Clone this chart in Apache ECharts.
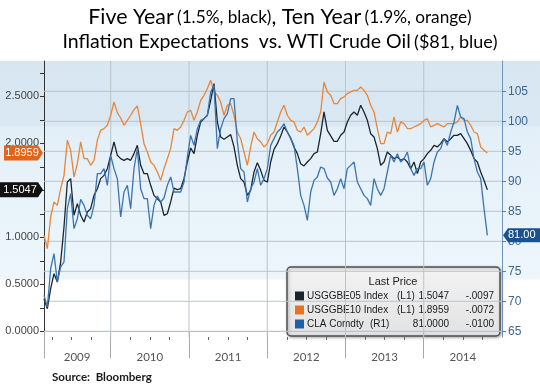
<!DOCTYPE html>
<html><head><meta charset="utf-8">
<script src="https://cdn.jsdelivr.net/npm/echarts@6/dist/echarts.min.js"></script>
<style>html,body{margin:0;padding:0;background:#fff}
#c{width:540px;height:384px;background:linear-gradient(to bottom,#ffffff 0px,#ffffff 61px,#d7e6f1 61px,#dae8f3 126px,#e3eff8 127px,#edf6fc 279px,#ffffff 280px,#ffffff 384px)}</style>
</head><body><div id="c"></div>
<script>
// sampling: first sample date (decimal year) and step between samples (~15.5 days)
const startYear = 2009.147;
const sampleStep = 0.04260;

// USGGBE05 Index (5-year breakeven, left axis)
const fiveYear = [
0.347,0.241,0.454,0.613,0.524,0.737,1.110,1.588,1.624,1.234,1.358,1.234,1.163,1.269,1.305,1.446,1.517,1.624,1.659,1.730,1.872,2.014,1.872,1.837,1.819,1.837,1.819,1.890,1.978,1.766,1.677,1.677,1.553,1.446,1.411,1.376,1.234,1.251,1.376,1.524,1.507,1.517,1.624,1.801,
1.950,1.890,2.085,2.227,2.262,2.298,2.457,2.634,2.227,2.067,2.042,2.067,2.092,1.961,1.766,1.624,1.588,1.446,1.500,1.695,1.794,1.712,1.606,1.588,1.801,1.936,1.996,2.078,2.173,2.120,2.056,1.961,1.890,1.783,1.759,1.801,1.837,1.890,1.907,2.102,2.333,2.138,2.078,2.021,2.021,
2.085,2.120,2.227,2.298,2.333,2.298,2.404,2.333,2.244,2.102,2.067,1.943,1.766,1.801,1.907,1.872,1.837,1.854,1.819,1.837,1.801,1.730,1.801,1.677,1.801,1.837,1.890,1.925,1.978,1.961,1.996,2.049,2.014,2.049,2.085,2.085,2.102,2.049,1.996,1.925,1.837,1.801,1.695,1.606,1.5047];

// USGGBE10 Index (10-year breakeven, left axis)
const tenYear = [
1.021,0.879,1.216,1.376,1.340,1.517,1.659,2.032,1.925,1.641,1.783,2.014,1.837,1.837,1.766,1.819,2.032,2.138,2.156,2.191,2.298,2.439,2.326,2.269,2.191,2.244,2.298,2.358,2.397,2.209,1.996,1.907,1.801,1.766,1.695,1.606,1.730,1.837,1.943,2.156,2.138,2.173,2.244,2.333,
2.351,2.244,2.333,2.457,2.510,2.581,2.670,2.546,2.510,2.439,2.298,2.404,2.422,2.298,2.120,2.049,1.907,1.766,1.961,2.120,2.049,2.014,1.961,1.996,2.085,2.120,2.227,2.333,2.404,2.298,2.244,2.227,2.138,2.120,2.173,2.085,2.120,2.156,2.227,2.333,2.652,2.546,2.510,2.422,2.422,
2.475,2.493,2.528,2.546,2.563,2.563,2.599,2.563,2.510,2.404,2.333,2.156,1.996,1.996,2.120,2.102,2.280,2.120,2.227,2.209,2.156,2.156,2.173,2.191,2.209,2.244,2.262,2.173,2.191,2.209,2.191,2.173,2.209,2.209,2.209,2.227,2.280,2.244,2.244,2.191,2.120,2.102,1.961,1.925,1.8959];

// CLA Comdty (WTI crude, right axis)
const oilPrice = [
70.99,69.05,75.44,77.94,73.22,75.72,76.55,85.44,87.94,82.11,83.77,86.99,85.99,84.33,83.77,85.99,91.27,91.27,92.11,89.33,94.33,92.11,90.44,84.05,88.22,89.33,85.44,92.11,95.44,88.77,87.11,87.11,82.11,85.99,87.55,86.55,87.22,89.33,90.72,88.22,88.22,88.22,89.88,94.05,
97.66,95.99,98.77,100.16,100.44,100.99,104.88,105.99,95.44,98.77,100.44,101.27,103.77,103.77,96.55,92.11,91.55,86.55,88.77,89.88,92.11,89.33,90.44,92.11,95.99,97.11,98.22,98.77,99.61,98.22,97.11,95.99,92.11,87.66,85.99,83.49,88.22,90.16,90.72,92.38,92.11,90.55,89.88,87.66,88.77,
90.44,88.77,92.11,92.66,93.22,89.88,88.77,87.66,87.11,85.99,90.44,88.77,87.66,88.77,91.55,94.33,93.22,94.61,93.22,93.77,94.88,92.11,90.99,92.11,92.11,93.22,89.33,90.44,93.22,94.88,95.44,97.11,95.99,98.22,99.88,102.66,100.72,100.44,98.22,97.11,93.77,91.55,90.44,85.44,81.00];

const yearBoundaries = [2010, 2011, 2012, 2013, 2014];
const yearLabels = ['2009', '2010', '2011', '2012', '2013', '2014'];
const yearLabelPos = [2009.57, 2010.5, 2011.5, 2012.5, 2013.5, 2014.5];
const quarterTicks = [2009.25,2009.5,2009.75,2010.25,2010.5,2010.75,2011.25,2011.5,2011.75,2012.25,2012.5,2012.75,2013.25,2013.5,2013.75,2014.25,2014.5,2014.75];
const leftTickLabels = [0, 0.5, 1.0, 1.5, 2.0, 2.5];
const leftMinorTicks = [0,0.25,0.5,0.75,1,1.25,1.5,1.75,2,2.25,2.5,2.75];
const rightTickLabels = [65, 70, 75, 80, 85, 90, 95, 100, 105];

const legendNames = ['USGGBE05 Index', 'USGGBE10 Index', 'CLA Comdty'];
const legendAxes = ['(L1)', '(L1)', '(R1)'];
const lastPrices = ['1.5047', '1.8959', '81.0000'];
const lastChanges = ['-.0097', '-.0072', '-.0100'];
const tagLabels = ['1.5047', '1.8959', '81.00'];

const colBlack = '#1c242c', colOrange = '#e8873a', colBlue = '#3a75b0';
const xMin = 2009.147, xMax = 2015.0;
const yLeftMin = -0.06, yLeftMax = 2.875;

const toPairs = arr => arr.map((v, i) => [startYear + i * sampleStep, v]);

const chart = echarts.init(document.getElementById('c'), null, {renderer: 'canvas'});

const lineSeries = (name, data, color, yIdx, z) => ({
  name, type: 'line', data: toPairs(data), yAxisIndex: yIdx, xAxisIndex: 0,
  showSymbol: false, symbol: 'none', z,
  lineStyle: {color, width: 1.3}, animation: false
});

// grid lines as plain line series built from the tick arrays (light solid to mimic the dotted grid)
const gridStyle = {color: '#bcc3ca', width: 1, type: 'solid'};
const gridSeries = [];
rightTickLabels.forEach(v => gridSeries.push({
  type: 'line', yAxisIndex: 1, xAxisIndex: 0, z: 1, silent: true, symbol: 'none', showSymbol: false,
  data: [[xMin, v], [xMax, v]], lineStyle: gridStyle, animation: false, tooltip: {show: false}
}));
yearBoundaries.forEach(v => gridSeries.push({
  type: 'line', yAxisIndex: 0, xAxisIndex: 0, z: 1, silent: true, symbol: 'none', showSymbol: false,
  data: [[v, yLeftMin], [v, yLeftMax]], lineStyle: gridStyle, animation: false, tooltip: {show: false}
}));

const option = {
  backgroundColor: 'transparent',
  animation: false,
  grid: {left: 44, right: 38, top: 61, bottom: 47},
  xAxis: [{
    type: 'value', min: xMin, max: xMax, position: 'bottom',
    axisLine: {show: true, lineStyle: {color: '#b8b8b8', width: 1}},
    axisTick: {show: true, customValues: [xMin].concat(yearBoundaries), length: 27, lineStyle: {color: '#a8a8a8'}},
    axisLabel: {show: true, customValues: yearLabelPos, margin: 14,
      formatter: v => yearLabels[yearLabelPos.indexOf(v)] || String(Math.floor(v)),
      color: '#555', fontSize: 11.5, fontFamily: 'Lato'},
    splitLine: {show: false}
  }, {
    type: 'value', min: xMin, max: xMax, position: 'bottom',
    axisLine: {show: false},
    axisTick: {show: true, customValues: quarterTicks, length: 3, lineStyle: {color: '#666'}},
    axisLabel: {show: false}, splitLine: {show: false}
  }],
  yAxis: [{
    type: 'value', min: yLeftMin, max: yLeftMax, position: 'left',
    axisLine: {show: true, lineStyle: {color: '#333', width: 1}},
    axisTick: {show: true, customValues: leftMinorTicks, length: 4, lineStyle: {color: '#333'}},
    axisLabel: {show: true, customValues: leftTickLabels, formatter: v => v.toFixed(4),
      color: '#444', fontSize: 11, fontFamily: 'Liberation Sans', margin: 5},
    splitLine: {show: false}
  }, {
    type: 'value', min: 64.05, max: 110.05, position: 'right',
    axisLine: {show: true, lineStyle: {color: '#7393b8', width: 1}},
    axisTick: {show: true, customValues: rightTickLabels, length: 4, lineStyle: {color: '#5a7fa8'}},
    axisLabel: {show: true, customValues: rightTickLabels, formatter: v => String(v),
      color: '#3d6690', fontSize: 12, fontFamily: 'Liberation Sans', margin: 6},
    splitLine: {show: false}
  }],
  series: gridSeries.concat([
    lineSeries('USGGBE10 Index', tenYear, colOrange, 0, 3),
    lineSeries('USGGBE05 Index', fiveYear, colBlack, 0, 4),
    lineSeries('CLA Comdty', oilPrice, colBlue, 1, 5)
  ]),
  graphic: []
};
chart.setOption(option);

// decorations built from library coordinates
const n = oilPrice.length - 1;
const yFive = chart.convertToPixel({yAxisIndex: 0}, fiveYear[n]);
const yTen = chart.convertToPixel({yAxisIndex: 0}, tenYear[n]);
const yOil = chart.convertToPixel({yAxisIndex: 1}, oilPrice[n]);
const xL = chart.convertToPixel({xAxisIndex: 0}, xMin);
const xR = chart.convertToPixel({xAxisIndex: 0}, xMax);

const tagFont = '11px Liberation Sans';
function leftTag(y, color, text, x0) {
  const h = 7.5;
  return {type: 'group', z: 100, children: [
    {type: 'polygon', shape: {points: [[x0, y - h], [xL - 6, y - h], [xL - 1, y], [xL - 6, y + h], [x0, y + h]]},
     style: {fill: color}, z: 100},
    {type: 'text', z: 101, style: {text, x: (x0 + xL - 6) / 2 + 1, y, align: 'center', verticalAlign: 'middle',
      fill: '#fff', font: tagFont}}
  ]};
}
function rightTag(y, color, text) {
  const h = 7;
  return {type: 'group', z: 100, children: [
    {type: 'polygon', shape: {points: [[xR + 1, y], [xR + 6, y - h], [540, y - h], [540, y + h], [xR + 6, y + h]]},
     style: {fill: color}, z: 100},
    {type: 'text', z: 101, style: {text, x: xR + 6, y, align: 'left', verticalAlign: 'middle',
      fill: '#fff', font: tagFont}}
  ]};
}

const legX = 287, legY = 267, legW = 213, legH = 69;
const legColors = [colBlack, '#e8731e', '#1f5fa8'];
const legRowsY = [296, 310, 324];
const legFont = '10px Liberation Sans';
const legendChildren = [
  {type: 'rect', shape: {x: legX, y: legY, width: legW, height: legH, r: 4},
   style: {fill: new echarts.graphic.LinearGradient(0, 0, 0, 1, [{offset: 0, color: '#f3f3f3'}, {offset: 1, color: '#e2e2e2'}]),
     stroke: '#505050', lineWidth: 1.5, shadowBlur: 3, shadowColor: 'rgba(0,0,0,0.3)', shadowOffsetX: 1, shadowOffsetY: 1}},
  {type: 'text', style: {text: 'Last Price', x: 393, y: 282, align: 'center', verticalAlign: 'middle',
    fill: '#222', font: '11px Liberation Sans'}}
];
legendNames.forEach((name, i) => {
  const y = legRowsY[i];
  legendChildren.push(
    {type: 'rect', shape: {x: 295, y: y - 4.5, width: 9, height: 9}, style: {fill: legColors[i]}},
    {type: 'text', style: {text: name, x: 307, y, verticalAlign: 'middle', fill: '#1a1a1a', font: legFont}},
    {type: 'text', style: {text: legendAxes[i], x: i === 2 ? 370 : 397, y, verticalAlign: 'middle', fill: '#1a1a1a', font: legFont}},
    {type: 'text', style: {text: lastPrices[i], x: 449, y, align: 'right', verticalAlign: 'middle', fill: '#1a1a1a', font: legFont}},
    {type: 'text', style: {text: lastChanges[i], x: 494, y, align: 'right', verticalAlign: 'middle', fill: '#1a1a1a', font: legFont}}
  );
});

chart.setOption({graphic: [
  {type: 'text', z: 50, style: {
    text: '{b|Five Year} {s|(1.5%, black)}{b|, Ten Year} {s|(1.9%, }{o|orange}{s|)}',
    x: 280, y: 17, align: 'center', verticalAlign: 'middle',
    rich: {b: {fontSize: 21.4, fontFamily: 'Lato', color: '#111'},
           s: {fontSize: 17.2, fontFamily: 'Lato', color: '#111'},
           o: {fontSize: 17.2, fontFamily: 'Lato', color: '#e8b94a'}}}},
  {type: 'text', z: 50, style: {
    text: '{b|Inflation Expectations  vs. WTI Crude Oil} {s|($81, }{u|blue}{s|)}',
    x: 280, y: 42, align: 'center', verticalAlign: 'middle',
    rich: {b: {fontSize: 19.5, fontFamily: 'Lato', color: '#111'},
           s: {fontSize: 18, fontFamily: 'Lato', color: '#111'},
           u: {fontSize: 18, fontFamily: 'Lato', color: '#7d9fc6'}}}},
  {type: 'text', z: 50, style: {text: 'Source:  Bloomberg', x: 52, y: 377, verticalAlign: 'middle',
    fill: '#1a1a1a', font: 'bold 11.5px Lato'}},
  leftTag(yTen, '#e0651a', tagLabels[1], 4),
  leftTag(yFive, '#111111', tagLabels[0], 0),
  rightTag(yOil, '#1a5290', tagLabels[2]),
  {type: 'group', z: 90, children: legendChildren}
]});
</script>
</body></html>
